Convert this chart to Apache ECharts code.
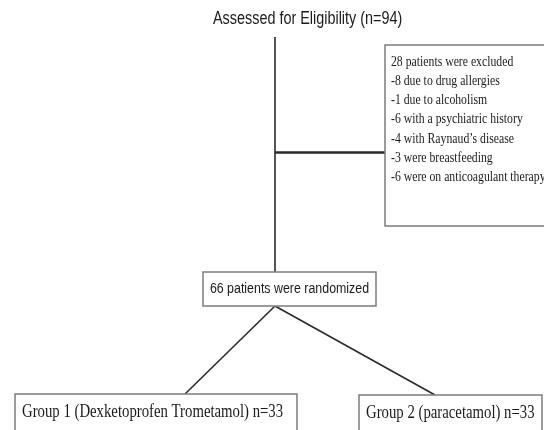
<!DOCTYPE html>
<html>
<head>
<meta charset="utf-8">
<script src="https://cdn.jsdelivr.net/npm/echarts@6/dist/echarts.min.js"></script>
<style>
  html, body { margin: 0; padding: 0; background: #fff; }
  #chart { width: 544px; height: 430px; }
</style>
</head>
<body>
<div id="chart"></div>
<script>
// flowchart nodes: label, box [x0, y0, x1, y1] in page units, kind
const nodeLabels = [
  'Assessed for Eligibility (n=94)',
  '28 patients were excluded\n-8 due to drug allergies\n-1 due to alcoholism\n-6 with a psychiatric history\n-4 with Raynaud\u2019s disease\n-3 were breastfeeding\n-6 were on anticoagulant therapy',
  '66 patients were randomized',
  'Group 1 (Dexketoprofen Trometamol) n=33',
  'Group 2 (paracetamol) n=33'
]
const nodeBoxes = [
  [213, 4, 400, 34],
  [385, 45, 560, 226],
  [203, 272, 376, 306],
  [15, 394, 297, 432],
  [359, 395, 542, 432]
]
const nodeKinds = ['title', 'list', 'sans', 'serif', 'serif']

// connectors: [x0, y0, x1, y1]
const connectors = [
  [275, 37, 275, 272],
  [275, 152, 385, 152],
  [275, 306, 185, 394],
  [275, 306, 435, 395]
]
const connectorWidths = [1.6, 2.6, 1.6, 1.6]

// font, size, horizontal squeeze (the source figure is condensed)
const fonts = {
  title: { family: 'Liberation Sans', size: 18, sx: 0.8, lh: 20 },
  list: { family: 'Liberation Serif', size: 14.5, sx: 0.81, lh: 19.2 },
  sans: { family: 'Liberation Sans', size: 15.5, sx: 0.8, lh: 18 },
  serif: { family: 'Liberation Serif', size: 18, sx: 0.82, lh: 20 }
}

const chart = echarts.init(document.getElementById('chart'))

chart.setOption({
  animation: false,
  grid: { left: 0, right: 0, top: 0, bottom: 0 },
  xAxis: { type: 'value', min: 0, max: 544, show: false },
  yAxis: { type: 'value', min: 0, max: 430, inverse: true, show: false },
  series: [
    {
      type: 'lines',
      coordinateSystem: 'cartesian2d',
      polyline: false,
      silent: true,
      data: connectors.map((c, i) => ({
        coords: [[c[0], c[1]], [c[2], c[3]]],
        lineStyle: { width: connectorWidths[i] }
      })),
      lineStyle: { color: '#2a2a2a', opacity: 1 }
    },
    {
      type: 'custom',
      coordinateSystem: 'cartesian2d',
      clip: false,
      silent: true,
      data: nodeBoxes.map((b, i) => [b[0], b[1], b[2], b[3], i]),
      renderItem: (params, api) => {
        const idx = api.value(4)
        const p0 = api.coord([api.value(0), api.value(1)])
        const p1 = api.coord([api.value(2), api.value(3)])
        const kind = nodeKinds[idx]
        const f = fonts[kind]
        const children = []
        if (kind !== 'title') {
          children.push({
            type: 'rect',
            shape: { x: p0[0], y: p0[1], width: p1[0] - p0[0], height: p1[1] - p0[1] },
            style: { fill: '#fff', stroke: '#7c7c7c', lineWidth: 1.5 }
          })
        }
        let ax, ay, align, valign
        if (kind === 'list') {
          ax = p0[0] + 6; ay = p0[1] + 7.4; align = 'left'; valign = 'top'
        } else if (kind === 'sans') {
          ax = (p0[0] + p1[0]) / 2; ay = (p0[1] + p1[1]) / 2; align = 'center'; valign = 'middle'
        } else if (kind === 'title') {
          ax = p0[0]; ay = (p0[1] + p1[1]) / 2; align = 'left'; valign = 'middle'
        } else {
          ax = p0[0] + 7; ay = p0[1] + 18; align = 'left'; valign = 'middle'
        }
        children.push({
          type: 'text',
          x: ax, y: ay,
          scaleX: f.sx,
          style: {
            x: 0, y: 0,
            text: nodeLabels[idx],
            fill: '#1a1a1a',
            font: f.size + 'px "' + f.family + '"',
            lineHeight: f.lh,
            align: align, verticalAlign: valign
          }
        })
        return { type: 'group', children }
      }
    }
  ]
})
</script>
</body>
</html>
